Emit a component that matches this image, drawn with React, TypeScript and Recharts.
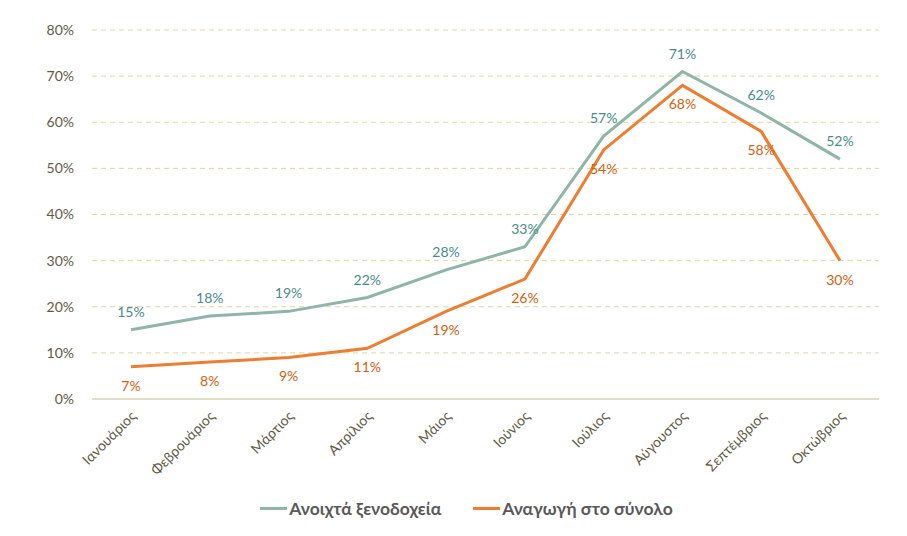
import React from "react";
import { LineChart, Line, XAxis, YAxis, CartesianGrid, Legend, LabelList } from "recharts";

const months = ["Ιανουάριος","Φεβρουάριος","Μάρτιος","Απρίλιος","Μάιος","Ιούνιος","Ιούλιος","Αύγουστος","Σεπτέμβριος","Οκτώβριος"];
const openHotels = [15,18,19,22,28,33,57,71,62,52];
const totalScaled = [7,8,9,11,19,26,54,68,58,30];
const yTicks = [0,10,20,30,40,50,60,70,80];
const seriesNames = ["Ανοιχτά ξενοδοχεία", "Αναγωγή στο σύνολο"];
const seriesColors = ["#8fb5a8", "#ed7d31"];

const data = months.map((m, i) => ({ month: m, open: openHotels[i], total: totalScaled[i] }));

const FONT = "Lato, 'Open Sans', sans-serif";

const XTick = (props: any) => {
  const { x, y, payload } = props;
  const ax = x + 6, ay = y + 10;
  return (
    <text x={ax} y={ay} transform={`rotate(-45 ${ax} ${ay})`} textAnchor="end" fontSize={14} fill="#5e5a44" fontFamily={FONT}>
      {payload.value}
    </text>
  );
};

const makeLabel = (color: string, dy: number) => (props: any) => {
  const { x, y, value } = props;
  return (
    <text x={x} y={y + dy} textAnchor="middle" fontSize={14} fill={color} fontFamily={FONT}>
      {value}%
    </text>
  );
};

const LegendContent = () => (
  <div style={{ display: "flex", justifyContent: "center", alignItems: "center", fontFamily: FONT, fontWeight: "bold", fontSize: 17.5, color: "#595959", gap: 32, marginTop: 2, paddingLeft: 54 }}>
    {seriesNames.map((n, i) => (
      <div key={n} style={{ display: "flex", alignItems: "center" }}>
        <div style={{ width: 27, height: 3, background: seriesColors[i], marginRight: 2 }} />
        <span>{n}</span>
      </div>
    ))}
  </div>
);

export default function App() {
  return (
    <div style={{ position: "absolute", left: 0, top: 0, background: "#fff" }}>
      <LineChart width={907} height={536} data={data} margin={{ top: 30, right: 28, bottom: 8, left: 0 }}>
        <CartesianGrid vertical={false} stroke="#dcd9a2" strokeDasharray="5 4" />
        <XAxis dataKey="month" height={97} tick={<XTick />} tickLine={false} axisLine={{ stroke: "#e2dfc4", strokeWidth: 2 }} interval={0} padding={{ left: 39, right: 39 }} />
        <YAxis domain={[0, 80]} ticks={yTicks} tickFormatter={(v: number) => `${v}%`} width={92} axisLine={false} tickLine={false} tick={{ fontSize: 14, fill: "#5e5a44", fontFamily: FONT }} tickMargin={12} />
        <Legend verticalAlign="bottom" height={32} content={<LegendContent />} />
        <Line type="linear" dataKey="open" name={seriesNames[0]} stroke={seriesColors[0]} strokeWidth={3} dot={false} isAnimationActive={false}>
          <LabelList dataKey="open" content={makeLabel("#4a8a8e", -13)} />
        </Line>
        <Line type="linear" dataKey="total" name={seriesNames[1]} stroke={seriesColors[1]} strokeWidth={3} dot={false} isAnimationActive={false}>
          <LabelList dataKey="total" content={makeLabel("#d4600f", 24)} />
        </Line>
      </LineChart>
    </div>
  );
}
